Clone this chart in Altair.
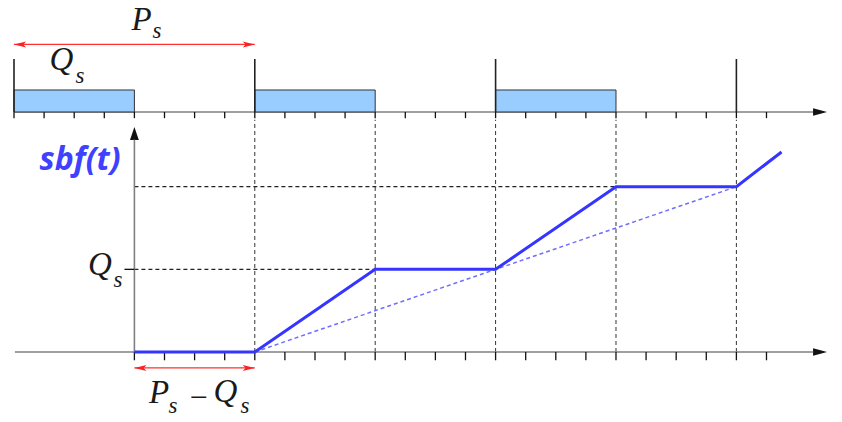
import altair as alt
import pandas as pd

# ---------------- data ----------------
top_ticks = list(range(0, 26))            # timeline ticks (time units)
supply_start = [0, 8, 16]                 # budget supply intervals Q_s
supply_end = [4, 12, 20]
period_marks = [0, 8, 16, 24]             # period boundaries P_s
bottom_ticks = list(range(4, 26))
grid_t = [8, 12, 16, 20, 24]              # dashed vertical guides
level_v = [1, 2]                          # Q_s, 2Q_s
level_end = [12, 24]
sbf_t = [4, 8, 12, 16, 20, 24, 25.5]      # supply bound function
sbf_v = [0, 0, 1, 1, 2, 2, 2.42]
lsbf_t = [8, 24]                          # linear lower bound
lsbf_v = [0, 2]
big_txt = ["P", "Q", "Q", "P", "Q"]
big_t = [4.236, 1.578, 2.857, 4.817, 7.027]
big_v = [3.896, 3.41, 0.93, -0.617, -0.605]
sub_txt = ["s", "s", "s", "s", "s"]
sub_t = [4.751, 2.193, 3.455, 5.282, 7.674]
sub_v = [3.799, 3.255, 0.786, -0.738, -0.738]

# ---------------- layout constants ----------------
TL = 2.904      # top timeline level
XS = alt.Scale(domain=[-0.1993, 27.243], nice=False, zero=False)
YS = alt.Scale(domain=[-0.7502, 4.162], nice=False, zero=False)


def X(f="t"):
    return alt.X(f"{f}:Q", scale=XS, axis=None)


def Y(f="v"):
    return alt.Y(f"{f}:Q", scale=YS, axis=None)


def seg(rows):
    return pd.DataFrame(rows, columns=["t", "t2", "v", "v2"])


def rule_layer(rows, **kw):
    return (alt.Chart(seg(rows)).mark_rule(**kw)
            .encode(x=X(), x2="t2:Q", y=Y(), y2="v2:Q"))


layers = []

# top timeline axis line
layers.append(rule_layer([(0, 26.55, TL, TL)], color="#808080", strokeWidth=1.6))
# top ticks
layers.append(rule_layer([(t, t, TL, TL - 0.075) for t in top_ticks], color="#111", strokeWidth=1.3))
# supply bars
layers.append(alt.Chart(seg([(a, b, TL, 3.17) for a, b in zip(supply_start, supply_end)]))
              .mark_rect(fill="#99ccff", stroke="#333", strokeWidth=1)
              .encode(x=X(), x2="t2:Q", y=Y(), y2="v2:Q"))
# period boundary lines
layers.append(rule_layer([(t, t, TL, 3.545) for t in period_marks], color="#222", strokeWidth=1.6))

# arrowheads for axes
arrow_r = "M-1,-0.55L1,0L-1,0.55Z"
arrow_u = "M0,-1L0.68,1L-0.68,1Z"
layers.append(alt.Chart(pd.DataFrame({"t": [26.78, 26.78], "v": [TL, 0]}))
              .mark_point(shape=arrow_r, filled=True, size=196, color="#111", opacity=1)
              .encode(x=X(), y=Y()))
layers.append(alt.Chart(pd.DataFrame({"t": [4], "v": [2.644]}))
              .mark_point(shape=arrow_u, filled=True, size=169, color="#111", opacity=1)
              .encode(x=X(), y=Y()))

# red P_s arrow and P_s - Q_s arrow
red_l = "M-1,0L1,-0.5L0.55,0L1,0.5Z"
red_r = "M1,0L-1,-0.5L-0.55,0L-1,0.5Z"
layers.append(rule_layer([(0, 8, 3.721, 3.721), (4, 8, -0.193, -0.193)], color="#ff3030", strokeWidth=1.2))
layers.append(alt.Chart(pd.DataFrame({"t": [0.2, 4.2], "v": [3.721, -0.193]}))
              .mark_point(shape=red_l, filled=True, size=144, color="#ff2020", opacity=1)
              .encode(x=X(), y=Y()))
layers.append(alt.Chart(pd.DataFrame({"t": [7.8, 7.8], "v": [3.721, -0.193]}))
              .mark_point(shape=red_r, filled=True, size=144, color="#ff2020", opacity=1)
              .encode(x=X(), y=Y()))

# dashed vertical guides
layers.append(rule_layer([(t, t, 0, 2.81) for t in grid_t], color="#333", strokeWidth=1, strokeDash=[4, 3]))
# dashed horizontal levels
layers.append(rule_layer([(4, e, lv, lv) for lv, e in zip(level_v, level_end)],
                         color="#222", strokeWidth=1.2, strokeDash=[4, 3]))

# bottom axis line and y axis
layers.append(rule_layer([(0.03, 26.55, 0, 0), (4, 4, 0, 2.57)], color="#808080", strokeWidth=1.6))
layers.append(rule_layer([(t, t, 0, -0.1) for t in bottom_ticks] + [(3.67, 4, 1, 1)],
                         color="#111", strokeWidth=1.3))

# linear lower bound (dashed blue)
layers.append(alt.Chart(pd.DataFrame({"t": lsbf_t, "v": lsbf_v}))
              .mark_line(color="#6f6fff", strokeWidth=1.5, strokeDash=[4, 3])
              .encode(x=X(), y=Y()))
# sbf
layers.append(alt.Chart(pd.DataFrame({"t": sbf_t, "v": sbf_v}))
              .mark_line(color="#3535ff", strokeWidth=3)
              .encode(x=X(), y=Y()))

# texts
layers.append(alt.Chart(pd.DataFrame({"t": big_t, "v": big_v, "s": big_txt}))
              .mark_text(font="Liberation Serif", fontStyle="italic", fontSize=33, color="#1a1a1a",
                         align="center", baseline="alphabetic")
              .encode(x=X(), y=Y(), text="s:N"))
layers.append(alt.Chart(pd.DataFrame({"t": sub_t, "v": sub_v, "s": sub_txt}))
              .mark_text(font="Liberation Serif", fontStyle="italic", fontSize=23, color="#1a1a1a",
                         align="center", baseline="alphabetic")
              .encode(x=X(), y=Y(), text="s:N"))
layers.append(alt.Chart(pd.DataFrame({"t": [6.13], "v": [-0.557], "s": ["\u2212"]}))
              .mark_text(font="Liberation Serif", fontSize=32, color="#1a1a1a",
                         align="center", baseline="middle")
              .encode(x=X(), y=Y(), text="s:N"))
layers.append(alt.Chart(pd.DataFrame({"t": [2.193], "v": [2.2], "s": ["sbf(t)"]}))
              .mark_text(font="Open Sans", fontStyle="italic", fontWeight="bold", fontSize=32, color="#4040ff",
                         align="center", baseline="alphabetic")
              .encode(x=X(), y=Y(), text="s:N"))

chart = alt.layer(*layers).properties(
    width=826, height=406,
    autosize=alt.AutoSizeParams(type="none"),
    padding=0,
).configure_view(stroke=None)

chart.save("out.html", embed_options={"renderer": "svg", "actions": False})
